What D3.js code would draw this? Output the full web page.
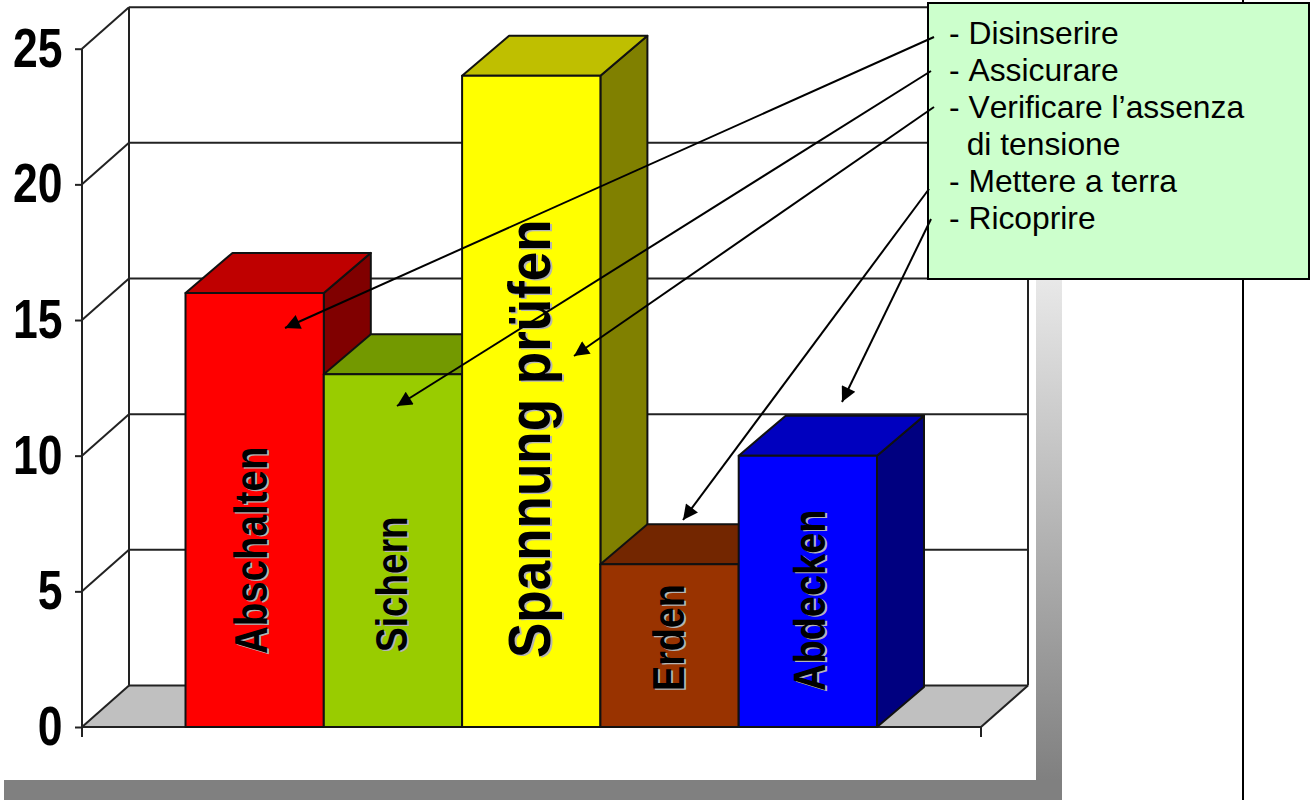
<!DOCTYPE html>
<html><head><meta charset="utf-8">
<script src="https://cdn.jsdelivr.net/npm/d3@7"></script>
<style>html,body{margin:0;padding:0;background:#fff}svg{display:block}text{font-family:"Liberation Sans",Arial,sans-serif}</style>
</head><body><svg id="c" width="1314" height="800"></svg>
<script>
// Values for the five safety steps
const categories = ["Abschalten", "Sichern", "Spannung prüfen", "Erden", "Abdecken"];
const values = [16, 13, 24, 6, 10];
const yTicks = [0, 5, 10, 15, 20, 25];
const frontColors = ["#ff0000", "#99cc00", "#ffff00", "#993300", "#0000ff"];
const noteLines = ["- Disinserire", "- Assicurare", "- Verificare l’assenza", "  di tensione", "- Mettere a terra", "- Ricoprire"];

// Chart geometry
const svg = d3.select("#c");
const depthX = 47, wallDepthY = -41.5, barDepthY = -40;
const y = d3.scaleLinear().domain([0, 25]).range([727, 48.7]);
const x = d3.scaleBand().domain(categories).range([185.5, 877]).padding(0);
const axisLeft = 82, axisRight = 981;
const color = d3.scaleOrdinal(categories, frontColors);
const shade = (c, k) => { const r = d3.rgb(c); return d3.rgb(r.r * k, r.g * k, r.b * k).formatHex(); };

// Label placement along each bar: baseline x and the y where the text starts
const labelPlace = {
  "Abschalten": { bx: 267, by: 654, size: 38.5, wide: 1.18 },
  "Sichern": { bx: 407, by: 652, size: 37, wide: 1.18 },
  "Spannung prüfen": { bx: 550, by: 658, size: 53, wide: 1.13 },
  "Erden": { bx: 684, by: 691, size: 37.7, wide: 1.18 },
  "Abdecken": { bx: 825, by: 691, size: 38, wide: 1.18 }
};

// Shaded frame behind the plot
const defs = svg.append("defs");
const grad = defs.append("linearGradient").attr("id", "frameFade")
  .attr("gradientUnits", "userSpaceOnUse").attr("x1", 0).attr("x2", 0).attr("y1", 170).attr("y2", 780);
grad.append("stop").attr("offset", 0).attr("stop-color", "#ffffff");
grad.append("stop").attr("offset", 1).attr("stop-color", "#808080");
svg.append("rect").attr("x", 1036).attr("y", 170).attr("width", 26).attr("height", 610).attr("fill", "url(#frameFade)");
svg.append("rect").attr("x", 4).attr("y", 780).attr("width", 1058).attr("height", 20).attr("fill", "#808080");

// Page rule on the right
svg.append("line").attr("x1", 1243).attr("x2", 1243).attr("y1", 0).attr("y2", 800).attr("stroke", "#000").attr("stroke-width", 2);

// Floor, back wall and gridlines
const ink = "#222";
svg.append("polygon")
  .attr("points", [[axisLeft, y(0)], [axisLeft + depthX, y(0) + wallDepthY], [axisRight + depthX, y(0) + wallDepthY], [axisRight, y(0)]].join(" "))
  .attr("fill", "#c0c0c0");
const grid = svg.append("g").attr("fill", "none").attr("stroke", ink).attr("stroke-width", 2);
grid.selectAll("line.back").data(yTicks).join("line").attr("class", "back")
  .attr("x1", axisLeft + depthX).attr("x2", axisRight + depthX)
  .attr("y1", d => y(d) + wallDepthY).attr("y2", d => y(d) + wallDepthY);
grid.selectAll("line.side").data(yTicks).join("line").attr("class", "side")
  .attr("x1", axisLeft).attr("x2", axisLeft + depthX)
  .attr("y1", d => y(d)).attr("y2", d => y(d) + wallDepthY);
grid.append("line").attr("x1", axisLeft + depthX).attr("x2", axisLeft + depthX).attr("y1", y(25) + wallDepthY).attr("y2", y(0) + wallDepthY);
grid.append("line").attr("x1", axisRight + depthX).attr("x2", axisRight + depthX).attr("y1", y(25) + wallDepthY).attr("y2", y(0) + wallDepthY);
grid.append("line").attr("x1", axisRight).attr("x2", axisRight + depthX).attr("y1", y(0)).attr("y2", y(0) + wallDepthY);

// Axes
const yAxis = d3.axisLeft(y).tickValues(yTicks).tickSize(7).tickPadding(0);
const yg = svg.append("g").attr("transform", `translate(${axisLeft},0)`).call(yAxis);
yg.select(".domain").remove();
yg.selectAll("line").attr("stroke", ink).attr("stroke-width", 2);
yg.selectAll("text").remove();
svg.append("line").attr("x1", axisLeft).attr("x2", axisLeft).attr("y1", y(25)).attr("y2", 737).attr("stroke", ink).attr("stroke-width", 2);
svg.append("line").attr("x1", axisLeft).attr("x2", axisRight).attr("y1", y(0)).attr("y2", y(0)).attr("stroke", ink).attr("stroke-width", 2);
svg.append("line").attr("x1", axisRight).attr("x2", axisRight).attr("y1", y(0)).attr("y2", 737).attr("stroke", ink).attr("stroke-width", 2);

// Tick numbers are tall, heavy glyphs
svg.append("g").selectAll("text").data(yTicks).join("text")
  .attr("transform", d => `translate(62.5,${y(d) + 18}) scale(1,1.24)`)
  .attr("text-anchor", "end").attr("font-size", 44.5).attr("font-weight", 700).attr("fill", "#000")
  .text(d => d);

// Bars with front, top and side faces, left to right so later bars overlap earlier ones
const bars = svg.append("g").attr("stroke", "#111").attr("stroke-width", 2).attr("stroke-linejoin", "round");
categories.forEach((name, i) => {
  const x0 = x(name), x1 = x0 + x.bandwidth(), top = y(values[i]), base = y(0), c = color(name);
  const g = bars.append("g");
  g.append("polygon").attr("fill", shade(c, 0.5))
    .attr("points", [[x1, top], [x1 + depthX, top + barDepthY], [x1 + depthX, base + barDepthY], [x1, base]].join(" "));
  g.append("polygon").attr("fill", shade(c, 0.75))
    .attr("points", [[x0, top], [x0 + depthX, top + barDepthY], [x1 + depthX, top + barDepthY], [x1, top]].join(" "));
  g.append("rect").attr("x", x0).attr("y", top).attr("width", x.bandwidth()).attr("height", base - top).attr("fill", c);
});

// Vertical bar names, widened across the bar, with a thin grey drop shadow
const labels = svg.append("g").attr("font-weight", 700);
categories.forEach(name => {
  const p = labelPlace[name];
  [["#b4b4b4", 1.6, 1.2], ["#000", 0, 0]].forEach(([fill, ox, oy]) => {
    labels.append("text")
      .attr("transform", `translate(${p.bx + ox},${p.by + oy}) scale(${p.wide},1) rotate(-90)`)
      .attr("font-size", p.size).attr("fill", fill).text(name);
  });
});

// Note box listing the Italian steps
svg.append("rect").attr("x", 928).attr("y", 3).attr("width", 381).attr("height", 276)
  .attr("fill", "#ccffcc").attr("stroke", "#000").attr("stroke-width", 2);
svg.append("g").selectAll("text").data(noteLines).join("text")
  .attr("x", 949).attr("y", (d, i) => 44 + i * 36.9)
  .attr("font-size", 31.8).attr("fill", "#000").style("white-space", "pre").style("font-kerning", "none")
  .text(d => d);

// Arrows from the note lines to each bar
defs.append("marker").attr("id", "head").attr("viewBox", "0 0 10 10").attr("refX", 10).attr("refY", 5)
  .attr("markerWidth", 18).attr("markerHeight", 15).attr("markerUnits", "userSpaceOnUse").attr("orient", "auto")
  .append("path").attr("d", "M0,0L10,5L0,10Z").attr("fill", "#000");
const arrowEnds = [
  [[934, 37], [285, 328]],
  [[931, 71], [397, 406]],
  [[934, 107], [574, 356]],
  [[929, 189], [683, 520]],
  [[931, 219], [842, 402]]
];
svg.append("g").selectAll("line").data(arrowEnds).join("line")
  .attr("x1", d => d[0][0]).attr("y1", d => d[0][1]).attr("x2", d => d[1][0]).attr("y2", d => d[1][1])
  .attr("stroke", "#000").attr("stroke-width", 2).attr("marker-end", "url(#head)");
</script></body></html>
